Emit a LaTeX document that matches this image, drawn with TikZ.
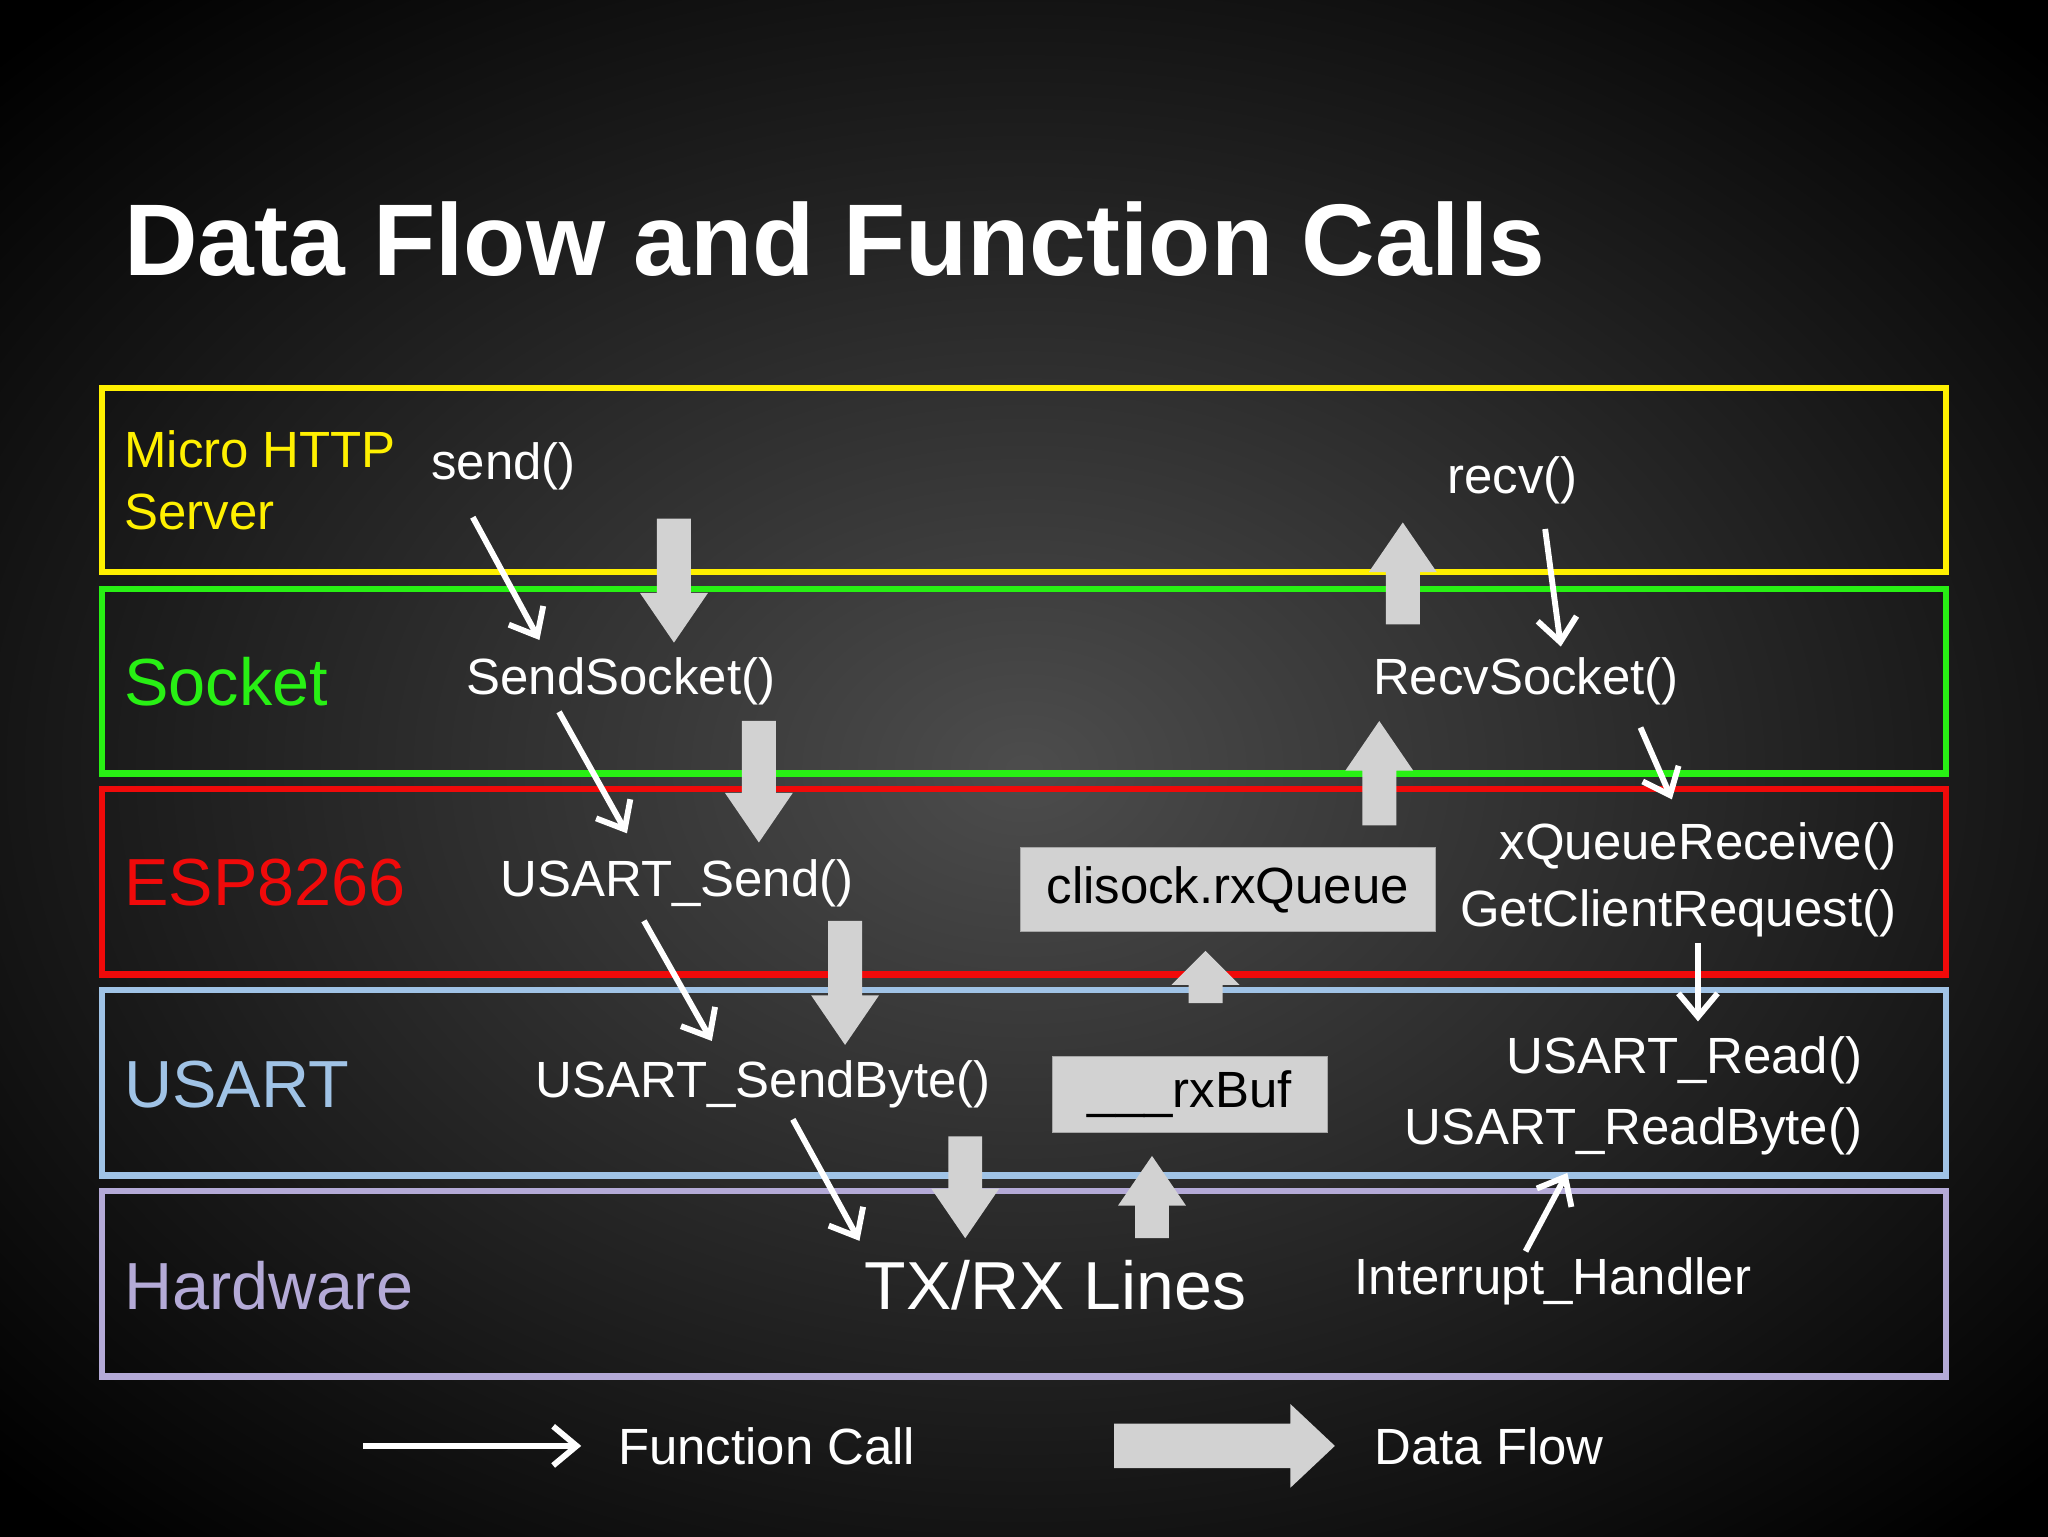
\documentclass[tikz,border=0pt]{standalone}
\usepackage{fontspec}
\setmainfont{Liberation Sans}
\usetikzlibrary{arrows.meta}
\definecolor{fatgray}{RGB}{210,210,210}
\definecolor{ylw}{RGB}{255,240,0}
\definecolor{grn}{RGB}{40,240,20}
\definecolor{rd}{RGB}{240,10,10}
\definecolor{lblue}{RGB}{160,195,230}
\definecolor{lav}{RGB}{180,170,215}
\newcommand\fatdown[3]{\fill[fatgray] (#1-13,#2)--(#1+13,#2)--(#1+13,#3-38)--(#1+26,#3-38)--(#1,#3)--(#1-26,#3-38)--(#1-13,#3-38)--cycle;}
\newcommand\fatup[4][38]{\fill[fatgray] (#2-13,#3)--(#2+13,#3)--(#2+13,#4+#1)--(#2+26,#4+#1)--(#2,#4)--(#2-26,#4+#1)--(#2-13,#4+#1)--cycle;}
\tikzset{
 band/.style={line width=5pt},
 lbl/.style={anchor=west,text=white,font=\fontsize{39}{42}\selectfont,inner sep=0pt},
 big/.style={anchor=west,font=\fontsize{51}{56}\selectfont,inner sep=0pt},
 call/.style={white,line width=4.5pt,-{Straight Barb[length=18pt,width=30pt,line width=4.5pt]}},
 gbox/.style={fill=fatgray,draw=gray!70,text=black,font=\fontsize{39}{42}\selectfont,inner sep=0pt}
}
\begin{document}
\begin{tikzpicture}[x=1pt,y=-1pt]
\useasboundingbox (0,0) rectangle (1568,1176);
\shade[inner color=black!70!white, outer color=black] (-300,-200) rectangle (1868,1376);
\node[anchor=west,text=white,inner sep=0pt,font=\bfseries\fontsize{78}{84}\selectfont] (title) at (95,183) {Data Flow and Function Calls};
\draw[band,ylw] (78,297) rectangle (1490,438);
\draw[band,grn] (78,451) rectangle (1490,592);
\draw[band,rd] (78,604) rectangle (1490,746);
\draw[band,lblue] (78,758) rectangle (1490,900);
\draw[band,lav] (78,912) rectangle (1490,1054);
% fat arrows
\fatdown{516}{397}{492}
\fatdown{581}{552}{645}
\fatdown{647}{705}{800}
\fatdown{739}{870}{948}
\fatup{882}{948}{885}
\fatup[26]{923}{768}{728}
\fatup{1056}{632}{552}
\fatup{1074}{478}{400}
\fill[fatgray] (853,1090)--(988,1090)--(988,1075)--(1022,1107)--(988,1139)--(988,1124)--(853,1124)--cycle;
% boxes
\node[gbox,minimum width=318pt,minimum height=64pt] (rxq) at (940,681) {clisock.rxQueue};
\node[gbox,minimum width=211pt,minimum height=58pt] (rxbuf) at (911,838) {\_\_\_rxBuf};
% texts
\node[lbl,text=ylw] (m1) at (95,344) {Micro HTTP};
\node[lbl,text=ylw] (m2) at (95,392) {Server};
\node[lbl] (send) at (330,357) {send()};
\node[lbl] (recv) at (1108,368) {recv()};
\node[big,text=grn] (sock) at (95,522) {Socket};
\node[lbl] (ss) at (357,522) {SendSocket()};
\node[lbl] (rs) at (1051,522) {RecvSocket()};
\node[big,text=rd] (esp) at (95,676) {ESP8266};
\node[lbl] (us) at (383,676) {USART\_Send()};
\node[lbl,anchor=east] (xq) at (1452,648) {xQueueReceive()};
\node[lbl,anchor=east] (gc) at (1452,699) {GetClientRequest()};
\node[big,text=lblue] (usart) at (95,830) {USART};
\node[lbl] (usb) at (410,830) {USART\_SendByte()};
\node[lbl,anchor=east] (ur) at (1426,812) {USART\_Read()};
\node[lbl,anchor=east] (urb) at (1426,866) {USART\_ReadByte()};
\node[big,text=lav] (hw) at (95,984) {Hardware};
\node[big,text=white,font=\fontsize{52}{56}\selectfont] (tx) at (662,984) {TX/RX Lines};
\node[lbl] (ih) at (1037,981) {Interrupt\_Handler};
\node[lbl] (fc) at (473,1107) {Function Call};
\node[lbl] (df) at (1052,1107) {Data Flow};
% function call arrows
\coordinate (a1) at (362,396); \coordinate (b1) at (413,490);
\coordinate (a2) at (428,545); \coordinate (b2) at (480,638);
\coordinate (a3) at (493,705); \coordinate (b3) at (545,797);
\coordinate (a4) at (607,857); \coordinate (b4) at (658,950);
\coordinate (a5) at (1183,405); \coordinate (b5) at (1195,495);
\coordinate (a6) at (1256,557); \coordinate (b6) at (1280,612);
\coordinate (a7) at (1300,722); \coordinate (b7) at (1300,782);
\coordinate (a8) at (1168,958); \coordinate (b8) at (1200,898);
\coordinate (a9) at (278,1107); \coordinate (b9) at (445,1107);
\foreach \i in {1,...,9} \draw[call] (a\i) -- (b\i);
\end{tikzpicture}
\end{document}
